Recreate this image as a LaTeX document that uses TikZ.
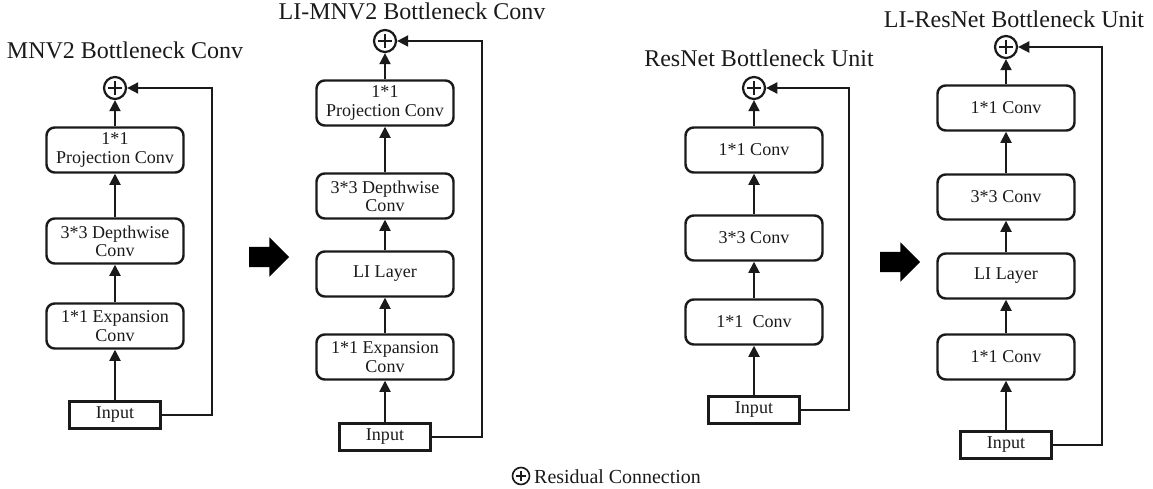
\documentclass[tikz,border=0pt]{standalone}
\usepackage{fontspec}
\setmainfont{Liberation Serif}
\usepackage{tikz}
\usetikzlibrary{arrows.meta,shapes.arrows,calc}
\definecolor{ink}{HTML}{1A1A1A}
\tikzset{
  layer/.style={draw=ink, line width=2.1pt, rounded corners=7pt, minimum width=4.11cm, minimum height=1.35cm, inner sep=0pt, align=center, font=\fontsize{15.4}{15.6}\selectfont, text=ink},
  inbox/.style={draw=ink, line width=2.3pt, minimum width=2.73cm, minimum height=0.81cm, inner sep=0pt, font=\fontsize{15.4}{15.6}\selectfont, text=ink},
  sum/.style={circle, draw=ink, line width=1.9pt, minimum size=#1, inner sep=0pt,
    path picture={
      \draw[line width=1.6pt] ($(path picture bounding box.west)!0.2!(path picture bounding box.east)$) -- ($(path picture bounding box.west)!0.8!(path picture bounding box.east)$);
      \draw[line width=1.6pt] ($(path picture bounding box.north)!0.2!(path picture bounding box.south)$) -- ($(path picture bounding box.north)!0.8!(path picture bounding box.south)$);}},
  sum/.default=0.66cm,
  flow/.style={draw=ink, line width=1.5pt, -{Triangle[length=9.5pt,width=9.5pt]}},
  blockarrow/.style={single arrow, fill=black, draw=none, inner xsep=0pt, inner ysep=0.3cm, minimum height=1.2cm, single arrow head extend=0.285cm},
  ttl/.style={inner sep=0pt, anchor=base, font=\fontsize{20.5}{24}\selectfont, text=ink},
  leg/.style={inner sep=0pt, anchor=base west, font=\fontsize{17}{20}\selectfont, text=ink},
}
\begin{document}
\begin{tikzpicture}[x=0.03cm, y=-0.03cm]
  \useasboundingbox (0,0) rectangle (1153,489);

  % MNV2 bottleneck
  \node[ttl] (ttlA) at (125,59) {MNV2 Bottleneck Conv};
  \node[inbox] (inA) at (115,415) {Input};
  \node[layer] (expA) at (115,326) {1*1 Expansion\\Conv};
  \node[layer] (dwA) at (115,241) {3*3 Depthwise\\Conv};
  \node[layer] (projA) at (115,150) {1*1\\Projection Conv};
  \node[sum] (plusA) at (115,88) {};
  \coordinate (railA) at (212,415);
  \draw[flow] (inA) -- (expA);
  \draw[flow] (expA) -- (dwA);
  \draw[flow] (dwA) -- (projA);
  \draw[flow] (projA) -- (plusA);
  \draw[flow] (inA) -- (railA) |- (plusA);

  \node[blockarrow] (toLIMNV) at (264,257) {};

  % LI-MNV2 bottleneck
  \node[ttl] (ttlB) at (412,20) {LI-MNV2 Bottleneck Conv};
  \node[inbox] (inB) at (385,437) {Input};
  \node[layer] (expB) at (385,357) {1*1 Expansion\\Conv};
  \node[layer] (liB) at (385,274) {LI Layer};
  \node[layer] (dwB) at (385,196) {3*3 Depthwise\\Conv};
  \node[layer] (projB) at (385,103) {1*1\\Projection Conv};
  \node[sum] (plusB) at (385,41) {};
  \coordinate (railB) at (482,437);
  \draw[flow] (inB) -- (expB);
  \draw[flow] (expB) -- (liB);
  \draw[flow] (liB) -- (dwB);
  \draw[flow] (dwB) -- (projB);
  \draw[flow] (projB) -- (plusB);
  \draw[flow] (inB) -- (railB) |- (plusB);

  % ResNet bottleneck
  \node[ttl] (ttlC) at (759,67) {ResNet Bottleneck Unit};
  \node[inbox] (inC) at (754,410) {Input};
  \node[layer] (c3C) at (754,322) {1*1\ \ Conv};
  \node[layer] (c2C) at (754,238) {3*3 Conv};
  \node[layer] (c1C) at (754,150) {1*1 Conv};
  \node[sum] (plusC) at (754,88) {};
  \coordinate (railC) at (849,410);
  \draw[flow] (inC) -- (c3C);
  \draw[flow] (c3C) -- (c2C);
  \draw[flow] (c2C) -- (c1C);
  \draw[flow] (c1C) -- (plusC);
  \draw[flow] (inC) -- (railC) |- (plusC);

  \node[blockarrow] (toLIRes) at (895,262) {};

  % LI-ResNet bottleneck
  \node[ttl] (ttlD) at (1014,28) {LI-ResNet Bottleneck Unit};
  \node[inbox] (inD) at (1006,445) {Input};
  \node[layer] (c3D) at (1006,357) {1*1 Conv};
  \node[layer] (liD) at (1006,276) {LI Layer};
  \node[layer] (c2D) at (1006,197) {3*3 Conv};
  \node[layer] (c1D) at (1006,108) {1*1 Conv};
  \node[sum] (plusD) at (1006,47) {};
  \coordinate (railD) at (1102,445);
  \draw[flow] (inD) -- (c3D);
  \draw[flow] (c3D) -- (liD);
  \draw[flow] (liD) -- (c2D);
  \draw[flow] (c2D) -- (c1D);
  \draw[flow] (c1D) -- (plusD);
  \draw[flow] (inD) -- (railD) |- (plusD);

  \node[sum=0.51cm, line width=1.4pt] (legsum) at (521,476) {};
  \node[leg] (legtxt) at (534,483) {Residual Connection};
\end{tikzpicture}
\end{document}
